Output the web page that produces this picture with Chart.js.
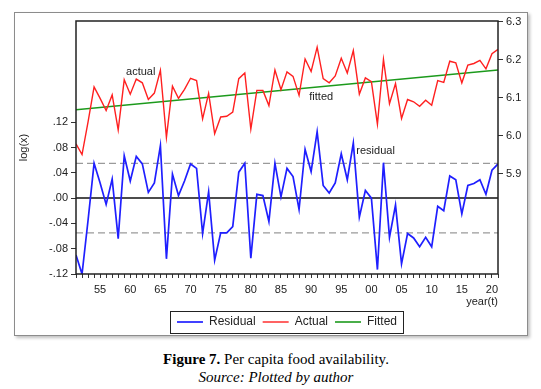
<!DOCTYPE html>
<html>
<head>
<meta charset="utf-8">
<script src="https://cdn.jsdelivr.net/npm/chart.js@4.4.1/dist/chart.umd.min.js"></script>
<style>
  body { margin: 0; background: #fff; width: 541px; height: 389px; overflow: hidden; position: relative; }
  #frame { position: absolute; left: 14px; top: 12px; width: 512px; height: 322px; border: 1px solid #8c8c8c; box-shadow: 2px 2px 3px rgba(0,0,0,0.25); }
  #wrap { position: absolute; left: 0; top: 0; width: 541px; height: 340px; }
  #caption { position: absolute; left: 0; top: 350px; width: 552px; text-align: center; font-family: "Liberation Serif", "Times New Roman", serif; font-size: 15px; line-height: 18px; color: #000; }
</style>
</head>
<body>
<div id="frame"></div>
<div id="wrap"><canvas id="chart" width="541" height="340"></canvas></div>
<div id="caption"><b>Figure 7.</b> Per capita food availability.<br><i>Source: Plotted by author</i></div>
<script>
const years = [1951, 1952, 1953, 1954, 1955, 1956, 1957, 1958, 1959, 1960,
  1961, 1962, 1963, 1964, 1965, 1966, 1967, 1968, 1969, 1970,
  1971, 1972, 1973, 1974, 1975, 1976, 1977, 1978, 1979, 1980,
  1981, 1982, 1983, 1984, 1985, 1986, 1987, 1988, 1989, 1990,
  1991, 1992, 1993, 1994, 1995, 1996, 1997, 1998, 1999, 2000,
  2001, 2002, 2003, 2004, 2005, 2006, 2007, 2008, 2009, 2010,
  2011, 2012, 2013, 2014, 2015, 2016, 2017, 2018, 2019, 2020,
  2021];

const residual = [-0.090, -0.120, -0.035, 0.055, 0.024, -0.010, 0.030, -0.064, 0.067, 0.027,
  0.066, 0.054, 0.009, 0.024, 0.083, -0.096, 0.038, 0.004, 0.027, 0.054,
  0.047, -0.056, 0.010, -0.098, -0.055, -0.055, -0.045, 0.041, 0.055, -0.095,
  0.006, 0.004, -0.037, 0.055, 0.002, 0.047, 0.034, -0.018, 0.077, 0.042,
  0.105, 0.020, 0.008, 0.024, 0.070, 0.029, 0.087, -0.030, 0.012, 0.000,
  -0.113, 0.056, -0.062, -0.011, -0.104, -0.056, -0.063, -0.077, -0.062, -0.077,
  -0.013, -0.020, 0.035, 0.029, -0.025, 0.020, 0.023, 0.029, 0.006, 0.044,
  0.054];

const actual = [5.978, 5.950, 6.036, 6.128, 6.098, 6.066, 6.107, 6.015, 6.147, 6.109,
  6.149, 6.139, 6.095, 6.112, 6.172, 5.995, 6.130, 6.098, 6.122, 6.151,
  6.145, 6.044, 6.111, 6.005, 6.049, 6.051, 6.062, 6.150, 6.165, 6.017,
  6.119, 6.119, 6.079, 6.173, 6.121, 6.168, 6.156, 6.106, 6.202, 6.169,
  6.233, 6.150, 6.139, 6.157, 6.204, 6.165, 6.224, 6.109, 6.152, 6.142,
  6.030, 6.201, 6.084, 6.137, 6.045, 6.095, 6.089, 6.077, 6.093, 6.080,
  6.145, 6.140, 6.196, 6.192, 6.139, 6.186, 6.190, 6.198, 6.176, 6.216,
  6.227];

// fitted trend is a straight line, two ends are enough
const fittedYears = [1951, 2021];
const fitted = [6.068, 6.173];

const stdErr = 0.055;
const residualTicks = [-0.12, -0.08, -0.04, 0, 0.04, 0.08, 0.12];
const levelTicks = [5.9, 6.0, 6.1, 6.2, 6.3];

// in-plot series notes: [text, year, value, axis]
const notes = [
  ['actual', 1959.3, 6.168, 'y2'],
  ['fitted', 1989.7, 6.102, 'y2'],
  ['residual', 1997.5, 0.075, 'y']
];

const toPoints = (xs, ys) => xs.map((x, i) => ({x: x, y: ys[i]}));
const edge = [years[0], years[years.length - 1]];

function fmtResidual(v) {
  const s = Math.abs(v).toFixed(2).replace(/^0/, '');
  return v < -1e-9 ? '-' + s : s;
}

Chart.defaults.font.family = 'Arial, "Liberation Sans", sans-serif';
Chart.defaults.font.size = 11;
Chart.defaults.color = '#222';

const frameBox = {
  id: 'frameBox',
  afterDatasetsDraw(chart) {
    const a = chart.chartArea;
    const ctx = chart.ctx;
    ctx.save();
    ctx.strokeStyle = '#222';
    ctx.lineWidth = 1.5;
    ctx.strokeRect(a.left, a.top, a.right - a.left, a.bottom - a.top);
    ctx.font = '11px Arial, "Liberation Sans", sans-serif';
    ctx.fillStyle = '#222';
    ctx.textBaseline = 'middle';
    notes.forEach(n => {
      ctx.fillText(n[0], chart.scales.x.getPixelForValue(n[1]), chart.scales[n[3]].getPixelForValue(n[2]));
    });
    ctx.restore();
  },
  afterDraw(chart) {
    const boxes = chart.legend.legendHitBoxes;
    if (!boxes || !boxes.length) return;
    const first = boxes[0], last = boxes[boxes.length - 1];
    const ctx = chart.ctx;
    ctx.save();
    ctx.strokeStyle = '#222';
    ctx.lineWidth = 1;
    const l = first.left - 7, r = last.left + last.width + 6;
    const t = first.top - 5, b = first.top + first.height + 5;
    ctx.strokeRect(Math.round(l) + 0.5, Math.round(t) + 0.5, Math.round(r - l), Math.round(b - t));
    ctx.restore();
  }
};

const ctx = document.getElementById('chart').getContext('2d');
const chart = new Chart(ctx, {
  type: 'line',
  data: {
    datasets: [{
      label: 'Residual',
      data: toPoints(years, residual),
      yAxisID: 'y',
      borderColor: '#1f1fff',
      borderWidth: 1.7,
      pointRadius: 0,
      order: 1
    }, {
      label: 'Actual',
      data: toPoints(years, actual),
      yAxisID: 'y2',
      borderColor: '#ff2020',
      borderWidth: 1.4,
      pointRadius: 0,
      order: 2
    }, {
      label: 'Fitted',
      data: toPoints(fittedYears, fitted),
      yAxisID: 'y2',
      borderColor: '#1c9a1c',
      borderWidth: 1.6,
      pointRadius: 0,
      order: 3
    }, {
      label: 'zero',
      data: toPoints(edge, [0, 0]),
      yAxisID: 'y',
      borderColor: '#111',
      borderWidth: 1.5,
      pointRadius: 0,
      order: 4
    }, {
      label: 'upper',
      data: toPoints(edge, [stdErr, stdErr]),
      yAxisID: 'y',
      borderColor: '#9a9a9a',
      borderWidth: 1.3,
      borderDash: [7, 4],
      pointRadius: 0,
      order: 5
    }, {
      label: 'lower',
      data: toPoints(edge, [-stdErr, -stdErr]),
      yAxisID: 'y',
      borderColor: '#9a9a9a',
      borderWidth: 1.3,
      borderDash: [7, 4],
      pointRadius: 0,
      order: 6
    }]
  },
  options: {
    responsive: false,
    animation: false,
    layout: { padding: { top: 21, left: 0, right: 0, bottom: 2 } },
    plugins: {
      tooltip: { enabled: false },
      legend: {
        position: 'bottom',
        fullSize: false,
        labels: {
          usePointStyle: true,
          pointStyle: 'line',
          pointStyleWidth: 26,
          padding: 7,
          color: '#222',
          font: { size: 12 },
          filter: item => item.datasetIndex < 3
        }
      }
    },
    scales: {
      x: {
        type: 'linear',
        position: 'bottom',
        min: 1951,
        max: 2021,
        afterBuildTicks: scale => { scale.ticks = years.map(v => ({value: v})); },
        afterFit: scale => { scale.height = 35; },
        ticks: {
          autoSkip: false,
          maxRotation: 0,
          padding: 5,
          callback: v => v % 5 === 0 ? String(v % 100).padStart(2, '0') : ''
        },
        grid: { drawOnChartArea: false, tickLength: 4, color: '#333' },
        border: { display: false },
        title: { display: true, text: 'year(t)', align: 'end', padding: { top: 0, bottom: 0 }, font: { size: 11 } }
      },
      y: {
        type: 'linear',
        position: 'left',
        min: -0.12,
        max: 0.28,
        afterBuildTicks: scale => { scale.ticks = residualTicks.map(v => ({value: v})); },
        afterFit: scale => { scale.width = 76; },
        ticks: { padding: 3, callback: v => fmtResidual(v) },
        grid: { drawOnChartArea: false, tickLength: 5, color: '#333' },
        border: { display: false },
        title: { display: true, text: 'log(x)', padding: { top: 17, bottom: 0 }, font: { size: 11 } }
      },
      y2: {
        type: 'linear',
        position: 'right',
        min: 5.635,
        max: 6.302,
        afterBuildTicks: scale => { scale.ticks = levelTicks.map(v => ({value: v})); },
        afterFit: scale => { scale.width = 43; },
        ticks: { padding: 3, callback: v => v.toFixed(1) },
        grid: { drawOnChartArea: false, tickLength: 5, color: '#333' },
        border: { display: false }
      }
    }
  },
  plugins: [frameBox]
});
</script>
</body>
</html>
